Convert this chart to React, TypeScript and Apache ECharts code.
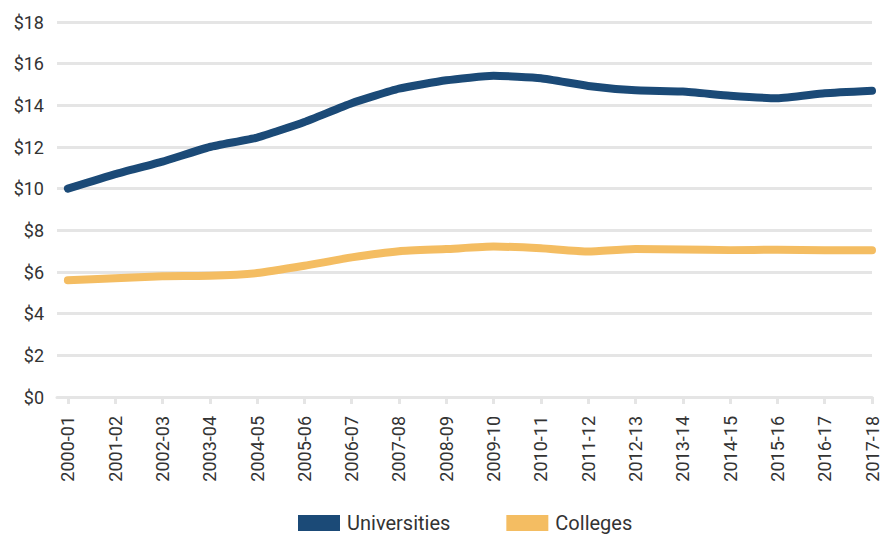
import React, { useEffect, useRef } from "react";
import * as echarts from "echarts";

const categories = [
  "2000-01", "2001-02", "2002-03", "2003-04", "2004-05", "2005-06",
  "2006-07", "2007-08", "2008-09", "2009-10", "2010-11", "2011-12",
  "2012-13", "2013-14", "2014-15", "2015-16", "2016-17", "2017-18",
];
const universities = [
  10.0, 10.7, 11.3, 12.0, 12.45, 13.2, 14.1, 14.8, 15.2, 15.42,
  15.3, 14.93, 14.72, 14.66, 14.46, 14.34, 14.58, 14.7,
];
const colleges = [
  5.6, 5.7, 5.8, 5.82, 5.95, 6.3, 6.7, 7.0, 7.1, 7.22,
  7.14, 6.98, 7.1, 7.08, 7.05, 7.07, 7.04, 7.04,
];
const yTicks = [0, 2, 4, 6, 8, 10, 12, 14, 16, 18];

export default function App() {
  const ref = useRef<HTMLDivElement>(null);
  useEffect(() => {
    if (!ref.current) return;
    const chart = echarts.init(ref.current, undefined, { renderer: "svg" });
    const idx = categories.map((_, i) => i);
    chart.setOption({
      animation: false,
      textStyle: { fontFamily: "Roboto" },
      grid: { left: 57, right: 6, top: 22, bottom: 140, containLabel: false },
      legend: {
        left: 293,
        top: 507,
        icon: "rect",
        itemWidth: 42,
        itemHeight: 16,
        itemGap: 56,
        textStyle: { fontSize: 20, lineHeight: 22, color: "#333", fontFamily: "Roboto", padding: [0, 0, 0, 2] },
        data: ["Universities", "Colleges"],
      },
      xAxis: {
        type: "value",
        min: -0.23,
        max: categories.length - 1,
        splitLine: { show: false },
        axisLine: { show: true, lineStyle: { color: "#e5e5e5", width: 3 } },
        axisTick: {
          show: true,
          customValues: idx,
          length: 7,
          lineStyle: { color: "#e5e5e5", width: 3 },
        },
        axisLabel: {
          customValues: idx,
          rotate: 90,
          margin: 19,
          fontSize: 18,
          color: "#333",
          fontFamily: "Roboto",
          formatter: (v: number) => categories[Math.round(v)] ?? "",
        },
      },
      yAxis: {
        type: "value",
        min: 0,
        max: 18,
        interval: 2,
        axisLine: { show: false },
        axisTick: { show: false },
        splitLine: { show: true, lineStyle: { color: "#e5e5e5", width: 3 } },
        axisLabel: {
          margin: 13,
          fontSize: 18,
          color: "#333",
          fontFamily: "Roboto",
          formatter: (v: number) => (yTicks.includes(v) ? "$" + v : ""),
        },
      },
      series: [
        {
          name: "Universities",
          type: "line",
          data: universities.map((v, i) => [i, v]),
          symbol: "none",
          smooth: 0.15,
          itemStyle: { color: "#1b4a77" },
          lineStyle: { color: "#1b4a77", width: 8, cap: "round", join: "round" },
          z: 3,
        },
        {
          name: "Colleges",
          type: "line",
          data: colleges.map((v, i) => [i, v]),
          symbol: "none",
          smooth: 0.15,
          itemStyle: { color: "#f4bd62" },
          lineStyle: { color: "#f4bd62", width: 8, cap: "round", join: "round" },
          z: 2,
        },
      ],
    });
    return () => chart.dispose();
  }, []);
  return <div ref={ref} style={{ width: 881, height: 537, position: "absolute", left: 0, top: 0 }} />;
}
